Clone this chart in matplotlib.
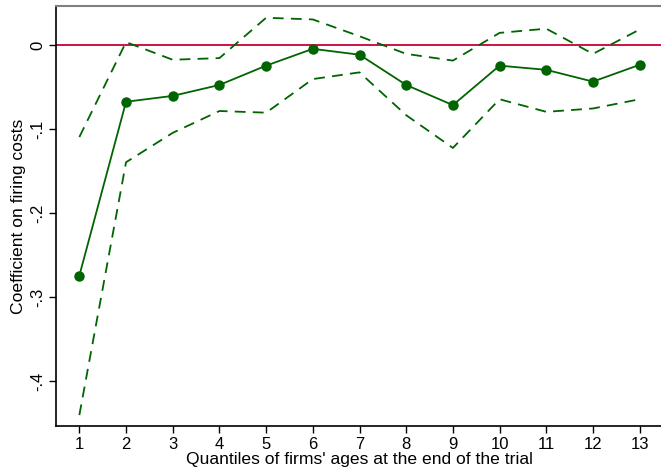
import numpy as np
import matplotlib
matplotlib.use("Agg")
import matplotlib.pyplot as plt

plt.rcParams['font.family'] = ['Liberation Sans', 'DejaVu Sans']

quantiles = np.arange(1, 14)
coef = [-0.274, -0.067, -0.060, -0.047, -0.024, -0.004, -0.011,
        -0.047, -0.071, -0.024, -0.029, -0.043, -0.023]
upper = [-0.109, 0.004, -0.017, -0.015, 0.033, 0.031, 0.011,
         -0.010, -0.018, 0.015, 0.020, -0.010, 0.019]
lower = [-0.440, -0.139, -0.104, -0.078, -0.080, -0.040, -0.032,
         -0.083, -0.122, -0.064, -0.079, -0.075, -0.064]

green = '#006400'

fig = plt.figure(figsize=(6.61, 4.71), dpi=100)
ax = fig.add_axes([56/661, 45/471, 607/661, 420/471])

ax.axhline(0, color='#cc0033', lw=1.3, zorder=1)
ax.plot(quantiles, upper, color=green, lw=1.3, dashes=(6, 4))
ax.plot(quantiles, lower, color=green, lw=1.3, dashes=(6, 4))
ax.plot(quantiles, coef, color=green, lw=1.3, marker='o', markersize=6.5)

ax.set_xlim(0.5, 13.5)
ax.set_ylim(-0.453, 0.047)
ax.set_xticks(quantiles)
ax.set_yticks([0, -0.1, -0.2, -0.3, -0.4])
ax.set_yticklabels(['0', '-.1', '-.2', '-.3', '-.4'], rotation=90, va='center')
ax.tick_params(labelsize=12, length=5, width=1, pad=3)

ax.spines['right'].set_visible(False)
ax.spines['top'].set_color('#808080')
ax.spines['top'].set_linewidth(1.5)
ax.spines['left'].set_linewidth(1.2)
ax.spines['bottom'].set_linewidth(1.2)

ax.set_xlabel("Quantiles of firms' ages at the end of the trial", fontsize=12.6, labelpad=0)
ax.set_ylabel("Coefficient on firing costs", fontsize=12.6, labelpad=3)

fig.savefig('out.png', dpi=100)
